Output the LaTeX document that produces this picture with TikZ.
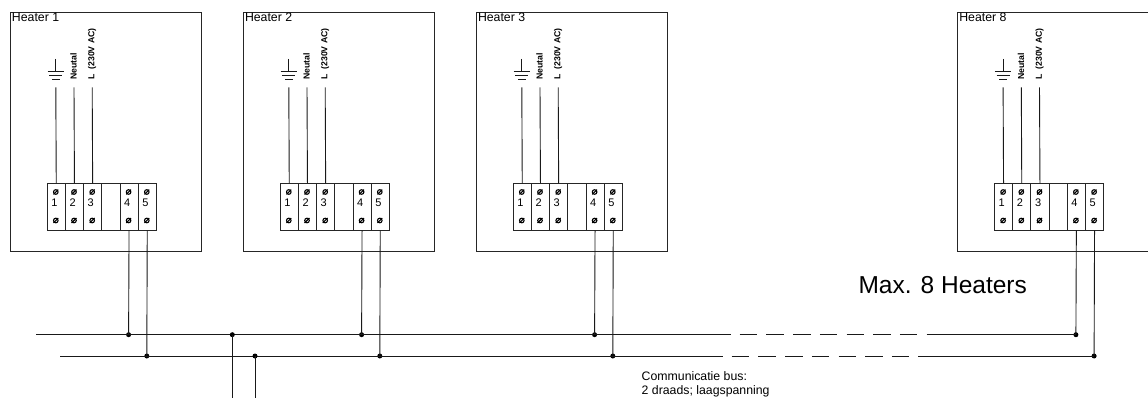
\documentclass[tikz,border=0pt]{standalone}
\usepackage{fontspec}
\setmainfont{Liberation Sans}
\begin{document}
\begin{tikzpicture}[x=1pt,y=-1pt,
  hbox/.style={draw=black!85, line width=0.9pt, anchor=north west, inner sep=0pt, minimum height=239pt},
  cell/.style={draw=black!85, line width=0.9pt, anchor=north west, inner sep=0pt, minimum width=18.2pt, minimum height=46.2pt},
  wire/.style={draw=black!90, line width=0.9pt},
  junction/.style={circle, fill=black, inner sep=0pt, minimum size=5pt},
  lbl/.style={font=\fontsize{12.3}{14}\selectfont, inner sep=0pt, anchor=base west},
  digit/.style={font=\fontsize{11}{12}\selectfont, inner sep=0pt, anchor=base west},
  rottext/.style={font=\fontsize{8.7}{10}\selectfont\bfseries, inner sep=0pt, rotate=90, anchor=west},
  screwpic/.pic={\draw[line width=1.1pt] (0,0) circle (2.3); \draw[line width=1.1pt] (-2.4,2.4) -- (2.4,-2.4);},
]
\useasboundingbox (0,0) rectangle (1148,398);

\foreach \k/\bx/\bw in {1/10/191, 2/243/191, 3/476/191, 8/957.3/220} {
  \node[hbox, minimum width=\bw*1pt] (box\k) at (\bx,12) {};
  \node[lbl] (name\k) at (\bx+1.8,22) {Heater \k};
  % terminal block
  \foreach \i in {0,...,5} {
    \node[cell] (c\k-\i) at (\bx+36.7+18.2*\i,183.3) {};
  }
  \foreach \i/\n in {0/1,1/2,2/3,4/4,5/5} {
    \pic at (\bx+45.8+18.2*\i,192) {screwpic};
    \pic at (\bx+45.8+18.2*\i,220.5) {screwpic};
    \node[digit] (d\k-\i) at (\bx+41.1+18.2*\i,207) {\n};
  }
  % supply wires
  \foreach \i in {0,1,2} {
    \coordinate (top\k-\i) at (\bx+45.8+18.2*\i,87.5);
    \draw[wire] (top\k-\i) -- (c\k-\i.north);
  }
  % earth symbol
  \draw[wire] (\bx+45.8,59) -- (\bx+45.8,71);
  \draw[wire] (\bx+37.5,71) -- (\bx+54.1,71);
  \draw[wire] (\bx+39.2,75) -- (\bx+52.4,75);
  \draw[wire] (\bx+41.9,79) -- (\bx+49.7,79);
  % rotated labels
  \node[rottext] (neu\k) at (\bx+63.6,79.8) {Neutal};
  \node[rottext] (live\k) at (\bx+82.2,79.8) {L\ \ (230V AC)};
  % bus connections
  \node[junction] (j\k-4) at (\bx+118.6,334.7) {};
  \node[junction] (j\k-5) at (\bx+136.8,356) {};
  \draw[wire] (c\k-4.south) -- (j\k-4.center);
  \draw[wire] (c\k-5.south) -- (j\k-5.center);
}

% bus line A (upper)
\coordinate (a0) at (36,334.7);
\coordinate (a1) at (731,334.7);
\coordinate (a2) at (739.7,334.7);
\coordinate (a3) at (917.7,334.7);
\coordinate (a4) at (926.7,334.7);
\draw[wire] (a0) -- (a1);
\draw[wire, dash pattern=on 17.5pt off 9.2pt] (a2) -- (a3);
\draw[wire] (a4) -- (j8-4.center);

% bus line B (lower)
\coordinate (b0) at (60,356);
\coordinate (b1) at (723.3,356);
\coordinate (b2) at (731.7,356);
\coordinate (b3) at (909.3,356);
\coordinate (b4) at (918.3,356);
\draw[wire] (b0) -- (b1);
\draw[wire, dash pattern=on 17.5pt off 9.2pt] (b2) -- (b3);
\draw[wire] (b4) -- (j8-5.center);

% outgoing bus
\node[junction] (jA) at (232.3,334.7) {};
\node[junction] (jB) at (255,356) {};
\coordinate (dA) at (232.3,402);
\coordinate (dB) at (255,402);
\draw[wire] (jA.center) -- (dA);
\draw[wire] (jB.center) -- (dB);

% texts
\node[font=\fontsize{24.5}{28}\selectfont, inner sep=0pt, anchor=base west] (maxh) at (858.3,293.3) {Max. 8 Heaters};
\node[lbl] (comm1) at (641.5,380.5) {Communicatie bus:};
\node[lbl] (comm2) at (641.5,394.8) {2 draads; laagspanning};
\end{tikzpicture}
\end{document}
